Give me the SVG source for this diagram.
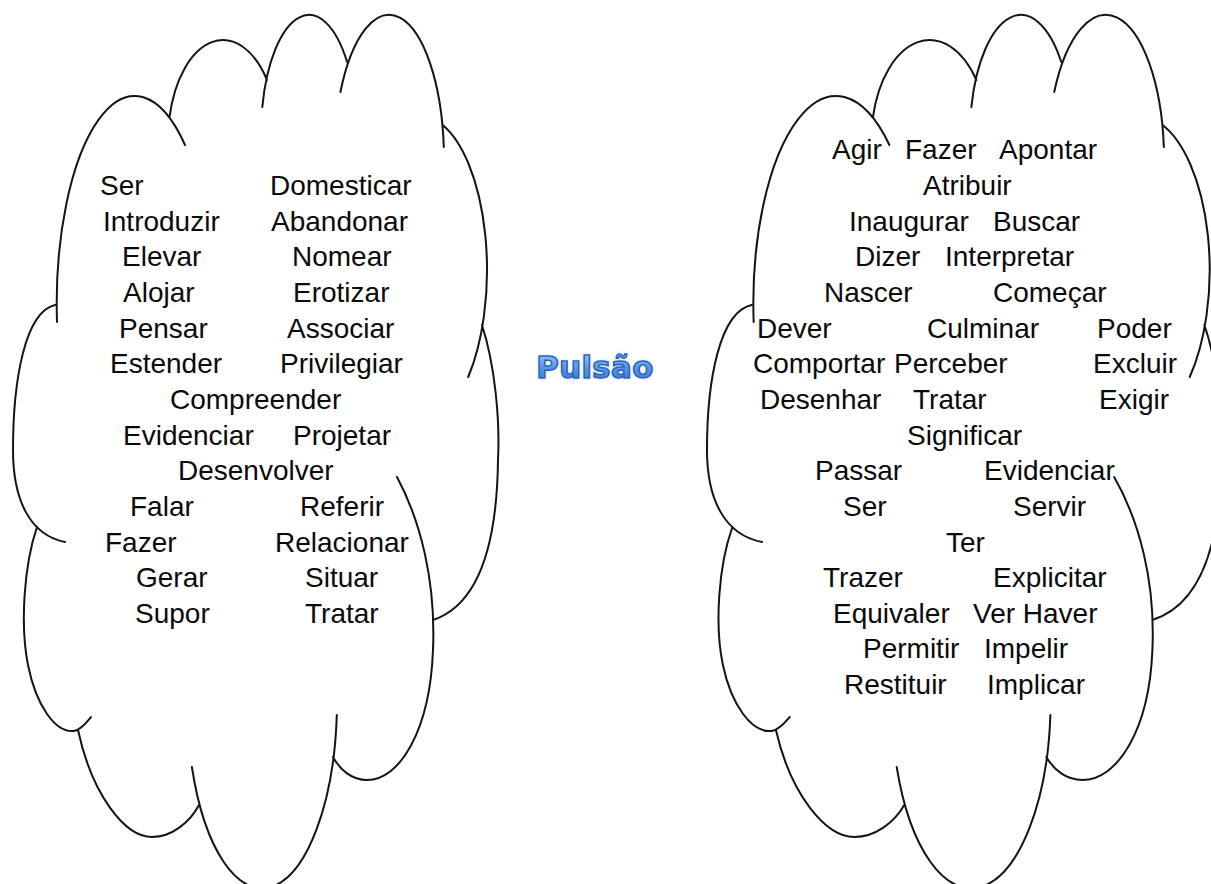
<svg xmlns="http://www.w3.org/2000/svg" width="1211" height="884" viewBox="0 0 1211 884">
  <style>
    .outline { fill: none; stroke: #141414; stroke-width: 2; stroke-linecap: round; }
    .w { font-family: "Liberation Sans", Arial, sans-serif; font-size: 28px; fill: #0a0a0a; }
    .title { font-family: "DejaVu Sans", "Liberation Sans", sans-serif; font-weight: bold; font-size: 31px;
             letter-spacing: 0.2px; fill: url(#titleFill); stroke: #2c62b8; stroke-width: 1.5; }
  </style>
  <defs>
    <!-- cloud outline: each lobe is one open stroke that runs a little past its neighbour -->
    <g id="cloudShape">
      <path class="outline" vector-effect="non-scaling-stroke" d="
        M57,322 A78,208 0 0 1 185,145
        M169.5,117 A55,100 0 0 1 267,80
        M262.3,107 A48,120 0 0 1 347.1,62
        M340.4,92 A55,145 0 0 1 443.8,147
        M442.6,125 A67,154 0 0 1 468.2,377
        M482,325 C495,365 500,420 498,460 C497,545 478,605 433,620
        M397,477 C420,520 436,580 433,650 C430,730 400,780 367,780 C352,780 340,770 333,757
        M336.8,715 A75,188 0 0 1 191.9,767
        M199,805 C190,822 172,837 152,837 C125,837 92,795 78,730
        M37,527 C24,565 20,625 28,665 C36,705 55,733 74,731 C81,730 87,722 91,717
        M55,305 C25,312 13,380 13,450 C13,500 30,535 65,542"/>
    </g>
    <linearGradient id="titleFill" x1="0" y1="0" x2="0" y2="1">
      <stop offset="0" stop-color="#b4d4f7"/>
      <stop offset="0.45" stop-color="#5f9de6"/>
      <stop offset="1" stop-color="#2f6fd0"/>
    </linearGradient>
    <filter id="titleGlow" x="-20%" y="-40%" width="140%" height="180%">
      <feGaussianBlur in="SourceAlpha" stdDeviation="1.6" result="b"/>
      <feFlood flood-color="#8fb9ee" flood-opacity="0.55"/>
      <feComposite in2="b" operator="in" result="g"/>
      <feMerge><feMergeNode in="g"/><feMergeNode in="SourceGraphic"/></feMerge>
    </filter>
  </defs>

  <rect width="1211" height="884" fill="#ffffff"/>

  <g id="connectors"/>

  <g id="cloud-left">
    <use href="#cloudShape"/>
    <text class="w" x="100" y="195">Ser</text>
    <text class="w" x="270" y="195">Domesticar</text>
    <text class="w" x="103" y="230.7">Introduzir</text>
    <text class="w" x="271" y="230.7">Abandonar</text>
    <text class="w" x="122" y="266.3">Elevar</text>
    <text class="w" x="292" y="266.3">Nomear</text>
    <text class="w" x="123" y="302">Alojar</text>
    <text class="w" x="293" y="302">Erotizar</text>
    <text class="w" x="119" y="337.6">Pensar</text>
    <text class="w" x="287" y="337.6">Associar</text>
    <text class="w" x="110" y="373.3">Estender</text>
    <text class="w" x="280" y="373.3">Privilegiar</text>
    <text class="w" x="170" y="408.9">Compreender</text>
    <text class="w" x="123" y="444.6">Evidenciar</text>
    <text class="w" x="293" y="444.6">Projetar</text>
    <text class="w" x="178" y="480.2">Desenvolver</text>
    <text class="w" x="130" y="515.9">Falar</text>
    <text class="w" x="300" y="515.9">Referir</text>
    <text class="w" x="105" y="551.5">Fazer</text>
    <text class="w" x="275" y="551.5">Relacionar</text>
    <text class="w" x="136" y="587.2">Gerar</text>
    <text class="w" x="305" y="587.2">Situar</text>
    <text class="w" x="135" y="622.8">Supor</text>
    <text class="w" x="305" y="622.8">Tratar</text>
  </g>

  <g id="title" filter="url(#titleGlow)">
    <text class="title" x="595" y="378" text-anchor="middle">Pulsão</text>
  </g>

  <g id="cloud-right">
    <use href="#cloudShape" transform="matrix(1.0605 0 0 1 693.2 0)"/>
    <text class="w" x="832" y="159.3">Agir</text>
    <text class="w" x="905" y="159.3">Fazer</text>
    <text class="w" x="999" y="159.3">Apontar</text>
    <text class="w" x="923" y="195">Atribuir</text>
    <text class="w" x="849" y="230.6">Inaugurar</text>
    <text class="w" x="993" y="230.6">Buscar</text>
    <text class="w" x="855" y="266.3">Dizer</text>
    <text class="w" x="945" y="266.3">Interpretar</text>
    <text class="w" x="824" y="301.9">Nascer</text>
    <text class="w" x="993" y="301.9">Começar</text>
    <text class="w" x="757" y="337.6">Dever</text>
    <text class="w" x="927" y="337.6">Culminar</text>
    <text class="w" x="1097" y="337.6">Poder</text>
    <text class="w" x="753" y="373.2">Comportar</text>
    <text class="w" x="894" y="373.2">Perceber</text>
    <text class="w" x="1093" y="373.2">Excluir</text>
    <text class="w" x="760" y="408.9">Desenhar</text>
    <text class="w" x="913" y="408.9">Tratar</text>
    <text class="w" x="1099" y="408.9">Exigir</text>
    <text class="w" x="907" y="444.5">Significar</text>
    <text class="w" x="815" y="480.2">Passar</text>
    <text class="w" x="984" y="480.2">Evidenciar</text>
    <text class="w" x="843" y="515.8">Ser</text>
    <text class="w" x="1013" y="515.8">Servir</text>
    <text class="w" x="946" y="551.5">Ter</text>
    <text class="w" x="823" y="587.1">Trazer</text>
    <text class="w" x="993" y="587.1">Explicitar</text>
    <text class="w" x="833" y="622.8">Equivaler</text>
    <text class="w" x="973" y="622.8">Ver Haver</text>
    <text class="w" x="863" y="658.4">Permitir</text>
    <text class="w" x="984" y="658.4">Impelir</text>
    <text class="w" x="844" y="694.1">Restituir</text>
    <text class="w" x="987" y="694.1">Implicar</text>
  </g>
</svg>
